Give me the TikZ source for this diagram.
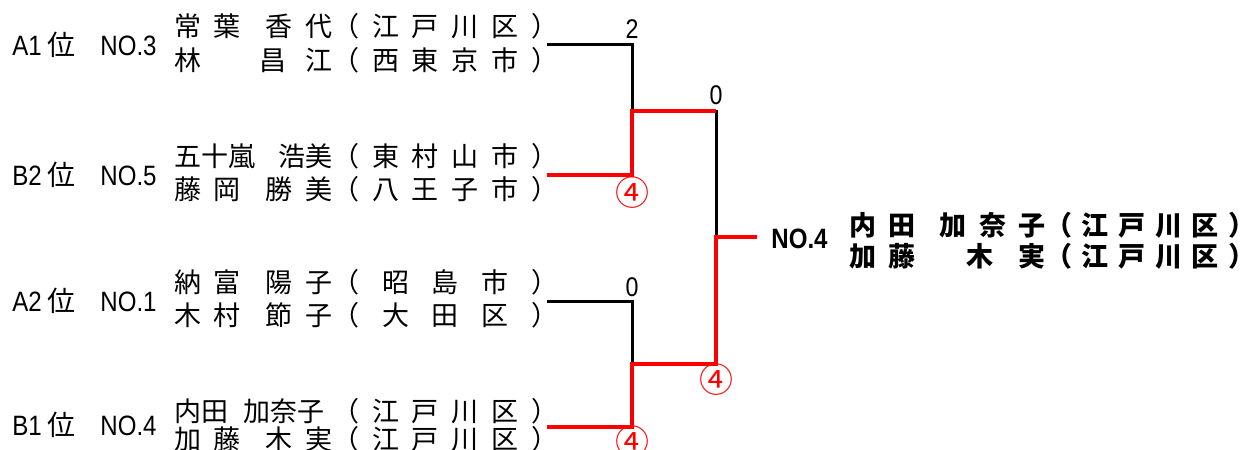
\documentclass[tikz,border=0pt]{standalone}
\usepackage{fontspec}
\usepackage{xcolor}
\setmainfont{Liberation Sans}[FakeStretch=0.86]
\newfontfamily\jp{Noto Sans CJK JP}
\usetikzlibrary{positioning}
\definecolor{MatchRed}{HTML}{FF0000}
% name field and city field of a player line
\newcommand{\pname}[1]{\makebox[79pt][s]{#1}}
\newcommand{\pcity}[1]{\makebox[113pt][s]{#1}}
\newcommand{\wname}[1]{\makebox[98pt][s]{#1}}
\newcommand{\wcity}[1]{\makebox[105pt][s]{#1}}

\begin{document}
\begin{tikzpicture}[x=0.5pt, y=-0.5pt,
    player/.style={anchor=base west, inner sep=0pt, font=\jp\fontsize{13.5}{13.5}\selectfont},
    seed/.style={anchor=base west, inner sep=0pt, font=\fontsize{14}{14}\selectfont},
    score/.style={anchor=base, inner sep=0pt, font=\fontsize{13.5}{13.5}\selectfont},
    circnum/.style={anchor=base, inner sep=0pt, MatchRed, font=\jp\fontsize{17}{17}\selectfont},
    lose/.style={line width=1.5pt},
    win/.style={MatchRed, line width=2.4pt}]
    \useasboundingbox (0,0) rectangle (1255,450);
    % Seeds
    \node[seed] (sd1) at (12,55) {A1\hspace{3pt}{\jp 位}};
    \node[seed] (no1) at (100,55) {NO.3};
    \node[seed] (sd2) at (12,185) {B2\hspace{3pt}{\jp 位}};
    \node[seed] (no2) at (100,185) {NO.5};
    \node[seed] (sd3) at (12,311) {A2\hspace{3pt}{\jp 位}};
    \node[seed] (no3) at (100,311) {NO.1};
    \node[seed] (sd4) at (12,435.5) {B1\hspace{3pt}{\jp 位}};
    \node[seed] (no4) at (100,435.5) {NO.4};
    % Players
    \node[player] (p1a) at (174,36.5) {\pname{常\hfil 葉\hfil\hfil 香\hfil 代}\pcity{（\hfil 江\hfil 戸\hfil 川\hfil 区\hfil ）}};
    \node[player] (p1b) at (174,70) {\pname{林\hfil\hfil\hfil 昌\hfil 江}\pcity{（\hfil 西\hfil 東\hfil 京\hfil 市\hfil ）}};
    \node[player] (p2a) at (174,166.5) {\pname{五十嵐\hfil 浩美}\pcity{（\hfil 東\hfil 村\hfil 山\hfil 市\hfil ）}};
    \node[player] (p2b) at (174,199.5) {\pname{藤\hfil 岡\hfil\hfil 勝\hfil 美}\pcity{（\hfil 八\hfil 王\hfil 子\hfil 市\hfil ）}};
    \node[player] (p3a) at (174,292) {\pname{納\hfil 富\hfil\hfil 陽\hfil 子}\pcity{（\hfil 昭\hfil 島\hfil 市\hfil ）}};
    \node[player] (p3b) at (174,325) {\pname{木\hfil 村\hfil\hfil 節\hfil 子}\pcity{（\hfil 大\hfil 田\hfil 区\hfil ）}};
    \node[player] (p4a) at (174,421) {\pname{内田\hfil\hfil 加奈子\hfil}\pcity{（\hfil 江\hfil 戸\hfil 川\hfil 区\hfil ）}};
    \node[player] (p4b) at (174,449) {\pname{加\hfil 藤\hfil\hfil 木\hfil 実}\pcity{（\hfil 江\hfil 戸\hfil 川\hfil 区\hfil ）}};
    % Bracket points
    \coordinate (s1) at (547,44);
    \coordinate (s2) at (547,175);
    \coordinate (s3) at (547,301);
    \coordinate (s4) at (547,427);
    \coordinate (j1) at (632,111);
    \coordinate (j2) at (632,364);
    \coordinate (f) at (716,237);
    \coordinate (w) at (757,237);
    % Lost lines
    \draw[lose] (s1) -| (j1);
    \draw[lose] (s3) -| (j2);
    \draw[lose] (j1) -| (f);
    % Winning path
    \draw[win] (s2) -| (j1) -- (j1 -| f);
    \draw[win] (s4) -| (j2) -- (j2 -| f) |- (w);
    % Scores
    \node[score] (sc1) at (632,38) {2};
    \node[score] (sc2) at (716,104) {0};
    \node[score] (sc3) at (632,296) {0};
    \node[circnum] (c1) at (632,205) {④};
    \node[circnum] (c2) at (716,392) {④};
    \node[circnum] (c3) at (632,454) {④};
    % Champion
    \node[seed, font=\bfseries\fontsize{14}{14}\selectfont] (chno) at (771,248) {NO.4};
    \node[player, font=\jp\bfseries\fontsize{13.5}{13.5}\selectfont] (ch1) at (849,235) {\wname{内\hfil 田\hfil\hfil 加\hfil 奈\hfil 子}\wcity{（\hfil 江\hfil 戸\hfil 川\hfil 区\hfil ）}};
    \node[player, font=\jp\bfseries\fontsize{13.5}{13.5}\selectfont] (ch2) at (849,266.5) {\wname{加\hfil 藤\hfil\hfil\hfil\hfil 木\hfil\hfil 実}\wcity{（\hfil 江\hfil 戸\hfil 川\hfil 区\hfil ）}};
\end{tikzpicture}
\end{document}
